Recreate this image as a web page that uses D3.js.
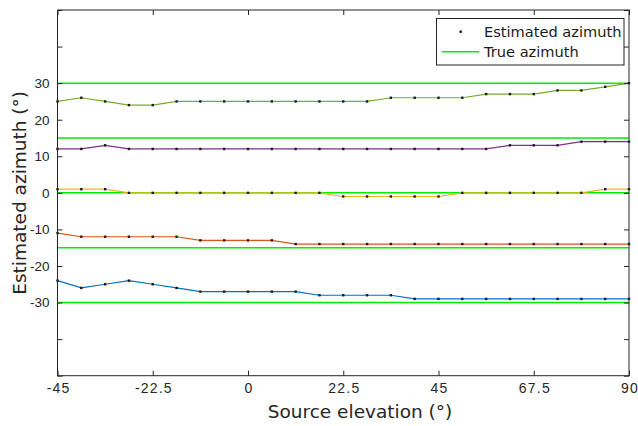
<!DOCTYPE html>
<html><head><meta charset="utf-8">
<script src="https://cdn.jsdelivr.net/npm/d3@7"></script>
<style>html,body{margin:0;padding:0;background:#fff;}svg{display:block;}</style>
</head><body><svg id="c" width="638" height="426"></svg>
<script>
const elevations = d3.range(25).map(i => -45 + i * 5.625);
const trueAzimuths = [-30, -15, 0, 15, 30];
const est_m30 = [-24,-26,-25,-24,-25,-26,-27,-27,-27,-27,-27,-28,-28,-28,-28,-29,-29,-29,-29,-29,-29,-29,-29,-29,-29];
const est_m15 = [-11,-12,-12,-12,-12,-12,-13,-13,-13,-13,-14,-14,-14,-14,-14,-14,-14,-14,-14,-14,-14,-14,-14,-14,-14];
const est_0   = [1,1,1,0,0,0,0,0,0,0,0,0,-1,-1,-1,-1,-1,0,0,0,0,0,0,1,1];
const est_15  = [12,12,13,12,12,12,12,12,12,12,12,12,12,12,12,12,12,12,12,13,13,13,14,14,14];
const est_30  = [25,26,25,24,24,25,25,25,25,25,25,25,25,25,26,26,26,26,27,27,27,28,28,29,30];
const seriesList = [est_m30, est_m15, est_0, est_15, est_30];
const seriesColors = ["#0072BD","#D95319","#EDB120","#7E2F8E","#77AC30"];
const xTicks = [-45, -22.5, 0, 22.5, 45, 67.5, 90];
const yTicks = [-50,-40,-30,-20,-10,0,10,20,30,40,50];
const yLabeled = [-30,-20,-10,0,10,20,30];
const legendLabels = ["Estimated azimuth", "True azimuth"];

const svg = d3.select("#c");
const L = 57.5, R = 629, T = 10, B = 375.7;
const x = d3.scaleLinear().domain([-45, 90]).range([L, R]);
const y = d3.scaleLinear().domain([-50, 50]).range([B, T]);
const axisColor = "#262626";

// true azimuth lines
svg.append("g").selectAll("line").data(trueAzimuths).join("line")
  .attr("x1", x(-45)).attr("x2", x(90))
  .attr("y1", d => y(d)).attr("y2", d => y(d))
  .attr("stroke", "#00ee00").attr("stroke-width", 1.5);

// series lines
const line = d3.line().x((d, i) => x(elevations[i])).y(d => y(d));
seriesList.forEach((s, k) => {
  svg.append("path").datum(s).attr("d", line)
    .attr("fill", "none").attr("stroke", seriesColors[k]).attr("stroke-width", 1.2);
});
// markers
seriesList.forEach(s => {
  svg.append("g").selectAll("rect").data(s).join("rect")
    .attr("x", (d, i) => x(elevations[i]) - 1.2).attr("y", d => y(d) - 1.2)
    .attr("width", 2.4).attr("height", 2.4).attr("fill", "#1a1a1a");
});

// axes
const tickFont = "'Liberation Sans', Arial, sans-serif";
const xb = svg.append("g").attr("transform", `translate(0,${B})`)
  .call(d3.axisBottom(x).tickValues(xTicks).tickSizeInner(-5).tickSizeOuter(0).tickPadding(7)
    .tickFormat(d => String(d)));
const xt = svg.append("g").attr("transform", `translate(0,${T})`)
  .call(d3.axisTop(x).tickValues(xTicks).tickSizeInner(-5).tickSizeOuter(0).tickFormat(""));
const yl = svg.append("g").attr("transform", `translate(${L},0)`)
  .call(d3.axisLeft(y).tickValues(yTicks).tickSizeInner(-5).tickSizeOuter(0).tickPadding(8)
    .tickFormat(d => yLabeled.includes(d) ? String(d) : ""));
const yr = svg.append("g").attr("transform", `translate(${R},0)`)
  .call(d3.axisRight(y).tickValues(yTicks).tickSizeInner(-5).tickSizeOuter(0).tickFormat(""));
[xb, xt, yl, yr].forEach(g => {
  g.selectAll(".domain").remove();
  g.selectAll("line").attr("stroke", axisColor);
  g.selectAll("text").attr("fill", "#262626").style("font-family", tickFont);
});
xb.selectAll("text").style("font-size", "14px").style("letter-spacing", "1.2px").attr("dx", "0.6px");
yl.selectAll("text").style("font-size", "13.5px");
svg.append("rect").attr("x", L).attr("y", T).attr("width", R - L).attr("height", B - T)
  .attr("fill", "none").attr("stroke", axisColor).attr("stroke-width", 1);

// axis labels
const labelFont = "'DejaVu Sans', sans-serif";
svg.append("text").attr("x", 360).attr("y", 418).attr("text-anchor", "middle")
  .style("font-family", labelFont).style("font-size", "18.5px").attr("fill", "#262626")
  .text("Source elevation (°)");
svg.append("text").attr("transform", `translate(25.5,${(T + B) / 2}) rotate(-90)`).attr("text-anchor", "middle")
  .style("font-family", labelFont).style("font-size", "18.5px").attr("fill", "#262626")
  .text("Estimated azimuth (°)");

// legend
const lg = svg.append("g");
lg.append("rect").attr("x", 436.5).attr("y", 18.5).attr("width", 187.5).attr("height", 46.5)
  .attr("fill", "#fff").attr("stroke", axisColor).attr("stroke-width", 1);
lg.append("rect").attr("x", 459.5).attr("y", 30.5).attr("width", 2.4).attr("height", 2.4).attr("fill", "#1a1a1a");
lg.append("line").attr("x1", 442).attr("x2", 479).attr("y1", 51.7).attr("y2", 51.7)
  .attr("stroke", "#00ee00").attr("stroke-width", 1.5);
lg.selectAll("text.lt").data(legendLabels).join("text").attr("class", "lt")
  .attr("x", 484).attr("y", (d, i) => 36.5 + i * 20.5)
  .style("font-family", labelFont).style("font-size", "14.6px").attr("fill", "#1a1a1a")
  .text(d => d);
</script></body></html>
